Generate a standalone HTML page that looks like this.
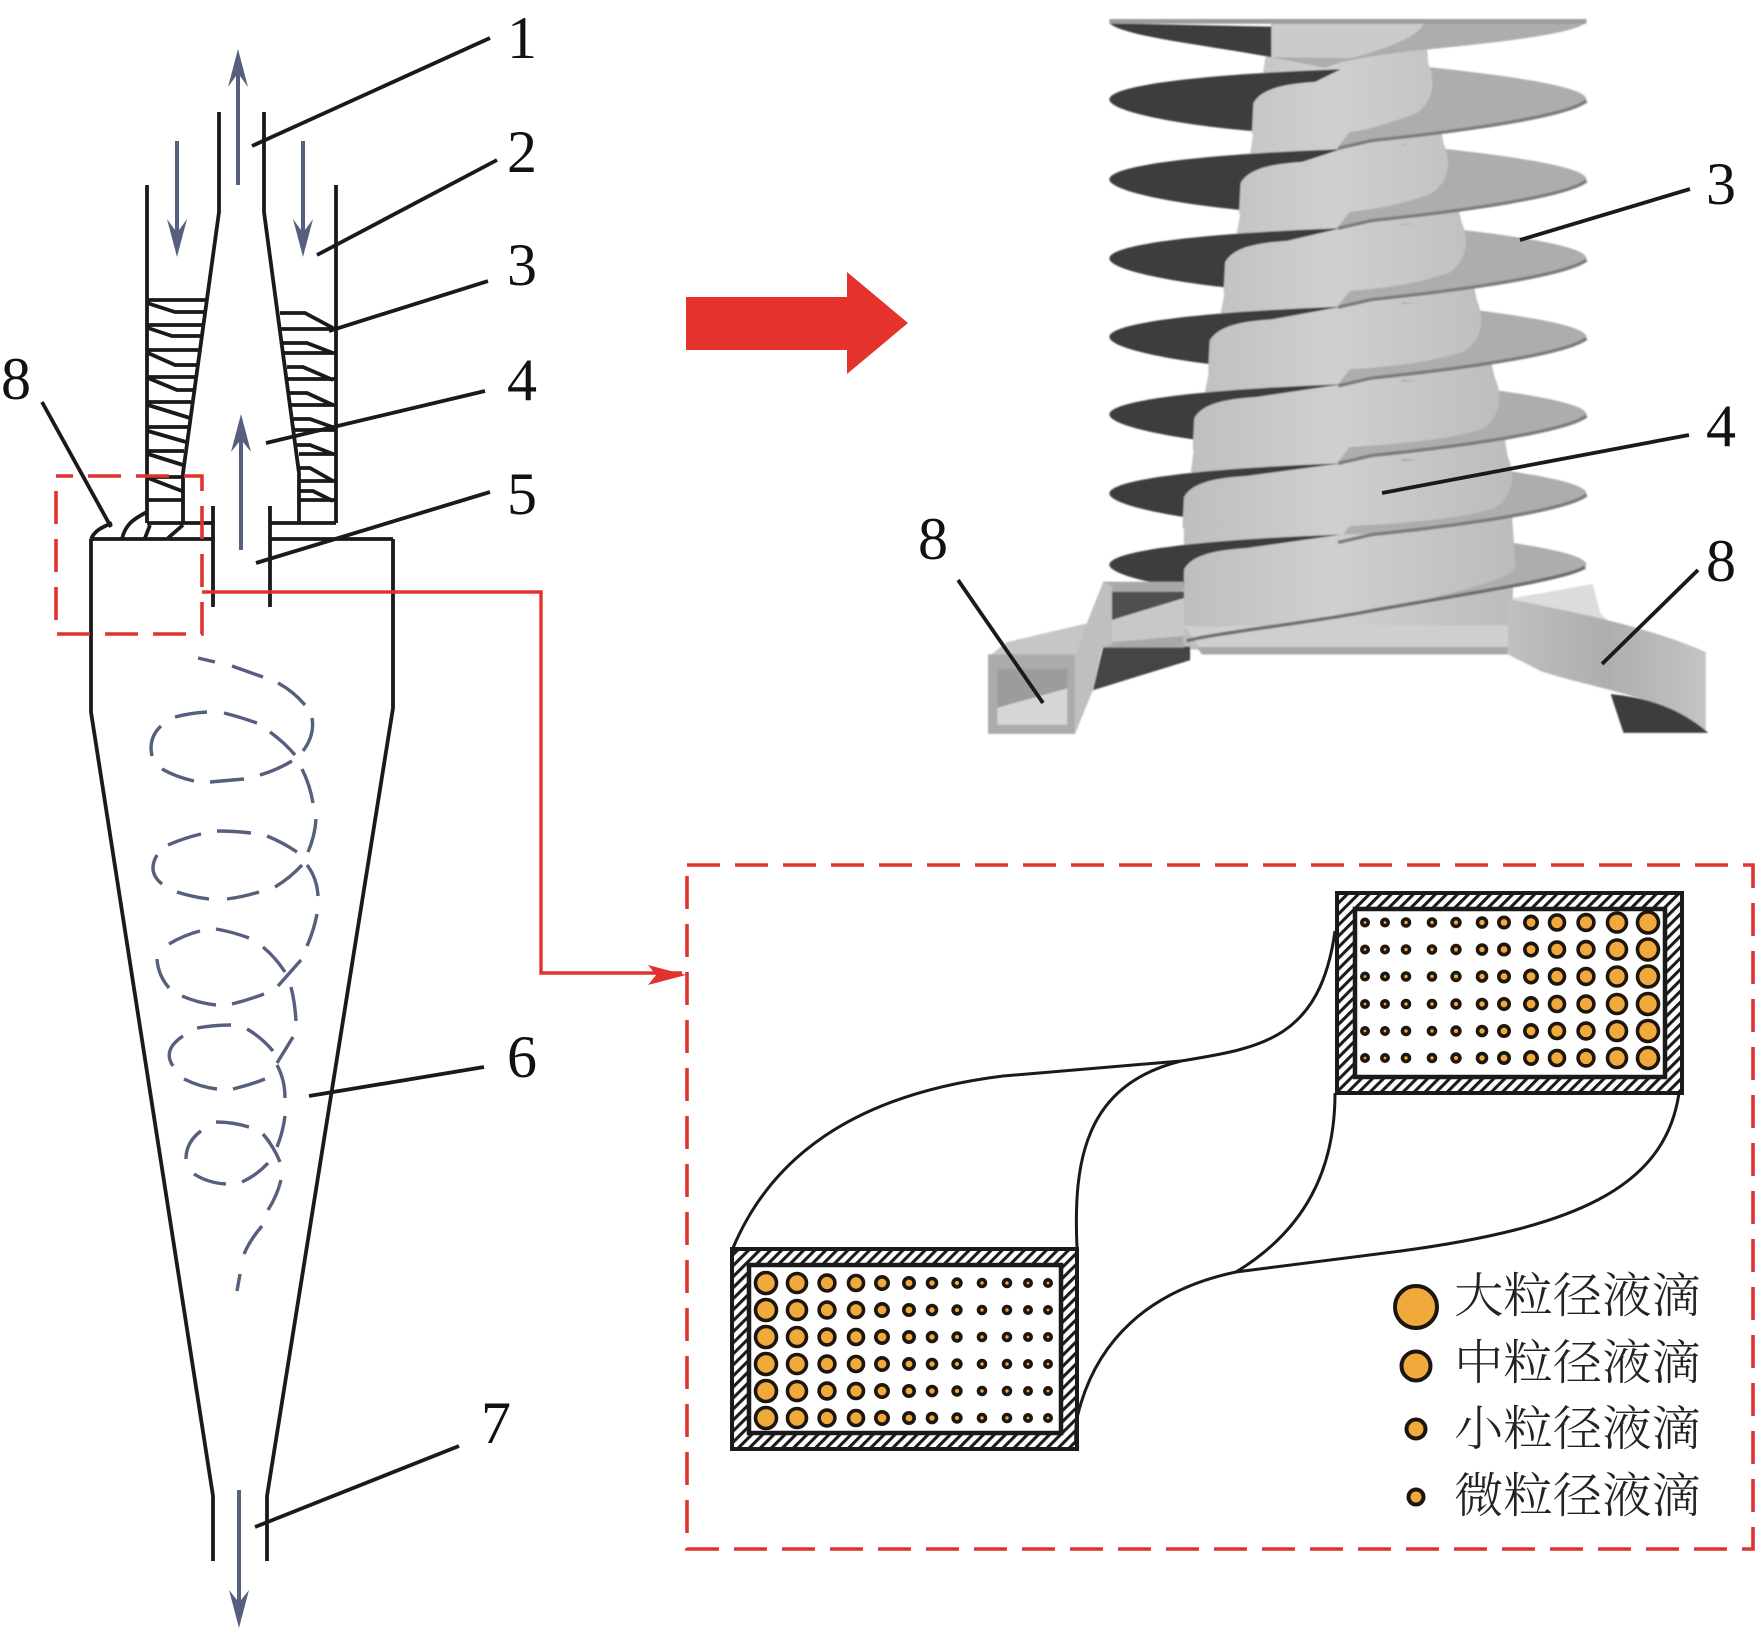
<!DOCTYPE html>
<html><head><meta charset="utf-8"><style>
html,body{margin:0;padding:0;background:#fff;width:1756px;height:1629px;overflow:hidden}
svg{display:block}
.d{font-family:"Liberation Serif",serif;font-size:60px;fill:#111;text-anchor:middle}
.c{font-family:"Liberation Serif","Noto Serif CJK SC",serif;font-size:48px;fill:#222;font-weight:300}
</style></head><body>
<svg width="1756" height="1629" viewBox="0 0 1756 1629" xmlns="http://www.w3.org/2000/svg">
<defs>
<pattern id="h" patternUnits="userSpaceOnUse" width="7.8" height="7.8" patternTransform="rotate(45)"><rect width="7.8" height="7.8" fill="#fff"/><rect width="3.1" height="7.8" fill="#1a1a1a"/></pattern>
<linearGradient id="bd" gradientUnits="userSpaceOnUse" x1="450" x2="1100" y1="0" y2="0"><stop offset="0" stop-color="#bebebe"/><stop offset=".45" stop-color="#d0d0d0"/><stop offset="1" stop-color="#bcbcbc"/></linearGradient>
<linearGradient id="rb" x1="0" x2="1" y1="0" y2="0"><stop offset="0" stop-color="#c0c0c0"/><stop offset=".5" stop-color="#aeaeae"/><stop offset="1" stop-color="#c4c4c4"/></linearGradient>
<filter id="soft" x="-2%" y="-2%" width="104%" height="104%"><feGaussianBlur stdDeviation="1.5"/></filter>
<g id="lens">
<path d="M310,0C310,-25 450,-50 760,-62L750,-30L620,68C450,55 310,25 310,0Z" fill="#3e3e3e"/>
<path d="M880,-72C1040,-55 1238,-30 1238,0C1238,30 1000,60 820,85L755,98L790,50Z" fill="#adadad"/>
</g>
<path id="strip" d="M1238,3C1200,35 1000,65 820,85L755,101" fill="none" stroke="#7d7d7d" stroke-width="7"/>
<g id="rl" fill="#f0a93b" stroke="#1d1510" stroke-width="3.600">
<circle cx="766" cy="0" r="10.500"/><circle cx="797" cy="0" r="9.500"/><circle cx="827" cy="0" r="7.900"/><circle cx="856" cy="0" r="7.500"/><circle cx="882" cy="0" r="6.200"/><circle cx="909" cy="0" r="5.200"/><circle cx="932" cy="0" r="4.500"/><circle cx="957" cy="0" r="3.900"/><circle cx="982" cy="0" r="3.500"/><circle cx="1007" cy="0" r="3.500"/><circle cx="1028" cy="0" r="3.200"/><circle cx="1048" cy="0" r="3.200"/>
</g>
<g id="rr" fill="#f0a93b" stroke="#1d1510" stroke-width="3.600">
<circle cx="1648" cy="0" r="10.500"/><circle cx="1617" cy="0" r="9.500"/><circle cx="1586" cy="0" r="7.900"/><circle cx="1557" cy="0" r="7.500"/><circle cx="1531" cy="0" r="6.200"/><circle cx="1504" cy="0" r="5.200"/><circle cx="1482" cy="0" r="4.500"/><circle cx="1456" cy="0" r="3.900"/><circle cx="1432" cy="0" r="3.500"/><circle cx="1406" cy="0" r="3.500"/><circle cx="1385" cy="0" r="3.200"/><circle cx="1365" cy="0" r="3.200"/>
</g>
</defs>

<!-- 3D swirl -->
<g transform="translate(950,0) scale(.5141,.4847)" filter="url(#soft)">
<path d="M625,42L925,42L930,130L960,295L995,458L1025,620L1060,780L1085,943L1095,1090L1095,1340L455,1340L455,1085L475,920L505,760L535,600L565,440L590,275Z" fill="url(#bd)"/>
<path d="M455,1290L1095,1290L1085,1345L490,1345Z" fill="#cfcfcf"/>
<path d="M480,1335H1085V1350H490Z" fill="#a8a8a8"/>
<!-- top fin -->
<path d="M920,42L1238,42C1238,65 1100,85 900,105C820,115 760,125 730,140L625,118L625,42Z" fill="#adadad"/>
<path d="M310,48L625,55L625,118C480,90 340,75 310,48Z" fill="#3e3e3e"/>
<path d="M625,42L925,42C915,70 880,90 780,120L625,118Z" fill="#cbcbcb"/>
<path d="M310,44H1238" stroke="#9c9c9c" stroke-width="10"/>
<!-- fins -->
<use href="#lens" transform="translate(0,205)"/>
<path d="M590,213C605,183 650,173 710,169L760,143L930,130C945,165 942,210 905,235C800,273 790,280 587,277Z" fill="url(#bd)"/>
<use href="#lens" transform="translate(0,370)"/>
<path d="M565,378C580,348 625,338 685,334L760,308L960,295C975,330 972,375 935,400C830,438 765,445 562,442Z" fill="url(#bd)"/>
<use href="#lens" transform="translate(0,533)"/>
<path d="M535,541C550,511 595,501 655,497L760,471L995,458C1010,493 1007,538 970,563C865,601 735,608 532,605Z" fill="url(#bd)"/>
<use href="#lens" transform="translate(0,695)"/>
<path d="M505,703C520,673 565,663 625,659L760,633L1025,620C1040,655 1037,700 1000,725C895,763 705,770 502,767Z" fill="url(#bd)"/>
<use href="#lens" transform="translate(0,855)"/>
<path d="M475,863C490,833 535,823 595,819L760,793L1060,780C1075,815 1072,860 1035,885C930,923 675,930 472,927Z" fill="url(#bd)"/>
<use href="#lens" transform="translate(0,1018)"/>
<path d="M455,1026C470,996 515,986 575,982L760,956L1085,943C1100,978 1097,1023 1060,1048C955,1086 655,1093 452,1090Z" fill="url(#bd)"/>
<use href="#lens" transform="translate(0,1165)"/>
<path d="M455,1175C470,1145 515,1135 575,1131L760,1103L1095,1090L1100,1170C1090,1195 1000,1220 820,1260C700,1285 500,1300 455,1290Z" fill="url(#bd)"/>
<use href="#strip" transform="translate(0,205)"/>
<use href="#strip" transform="translate(0,370)"/>
<use href="#strip" transform="translate(0,533)"/>
<use href="#strip" transform="translate(0,695)"/>
<use href="#strip" transform="translate(0,855)"/>
<use href="#strip" transform="translate(0,1018)"/>
<path d="M1235,1170C1200,1195 1000,1225 820,1260C700,1285 520,1305 460,1322" fill="none" stroke="#6e6e6e" stroke-width="7"/>
<!-- left inlet -->
<path d="M298,1334L467,1334L467,1362L278,1424Z" fill="#444"/>
<path d="M298,1200H455V1336H298Z" fill="#a8a8a8"/>
<path d="M315,1221H455V1234L315,1279Z" fill="#505050"/>
<path d="M315,1279L455,1234V1312L315,1325Z" fill="#c8c8c8"/>
<path d="M75,1355L110,1325L266,1286L243,1350Z" fill="#c6c6c6"/>
<path d="M298,1200L266,1286L243,1350V1514L278,1424L296,1336L315,1330V1210Z" fill="#bfbfbf"/>
<rect x="74" y="1350" width="169" height="164" fill="#ababab"/>
<rect x="92" y="1380" width="136" height="115" fill="#9c9c9c"/>
<path d="M92,1460L228,1420V1495H92Z" fill="#d6d6d6"/>
<!-- right inlet -->
<path d="M1090,1235L1250,1205L1265,1265L1290,1290L1200,1270Z" fill="#dcdcdc"/>
<path d="M1085,1235C1200,1260 1350,1290 1470,1345L1470,1510C1400,1440 1250,1420 1150,1385L1085,1350Z" fill="url(#rb)"/>
<path d="M1285,1432C1370,1440 1430,1470 1475,1512L1310,1512Z" fill="#3e3e3e"/>
</g>

<!-- red arrow -->
<path d="M686,297H847V272L908,323L847,374V350H686Z" fill="#e5322c"/>

<!-- cyclone -->
<g fill="none" stroke="#1a1a1a" stroke-width="3.800">
<path d="M219,112V212L183,473V523"/>
<path d="M264,112V212L299,473V523"/>
<path d="M147,185V523M336,185V523"/>
<path d="M147,523H213M299,523H336H270"/>
<path d="M91,539H213M270,539H393"/>
<path d="M213,506V607M270,506V607"/>
<path d="M91,539V712L213,1496V1561"/>
<path d="M393,539V708L267,1496V1561"/>
<!-- fins left -->
<path d="M147,300H207M147,303L175,312H205M147,325H203M148,328L172,336H201M147,350H199M148,353L175,365H198M147,377H196M148,378L177,390H195M147,402H191M148,405L190,418M147,427H188M148,431L186,442M147,451H184M148,454L183,465M147,477H183M148,478L182,491M147,500H183"/>
<!-- fins right -->
<path d="M280,313H305L333,328M280,329H336M283,343H307L333,353M283,353H336M287,367H303L333,380M288,379H336M289,393H307L333,405M291,405H336M293,419H310L335,428M293,430H336M297,445H310L333,454M299,454H336M300,468H310L333,481M300,481H336M300,491H313L333,501M300,500H336"/>
<!-- junction -->
<path d="M91,539C95,530 103,527 112,523"/>
<path d="M122,539C125,525 133,519 147,512M145,538L150,525M168,538L183,525"/>
<!-- leaders -->
<path d="M490,38L252,146M497,160L317,255M488,281L329,331M485,391L266,443M490,492L256,563M42,402L111,527M484,1067L309,1096M459,1446L255,1527"/>
</g>

<!-- red dashed box and connector -->
<rect x="56" y="476" width="146" height="158" fill="none" stroke="#e0332f" stroke-width="3.600" stroke-dasharray="33 15" stroke-dashoffset="16"/>
<path d="M202,592H541V973H682" fill="none" stroke="#e0332f" stroke-width="3.400"/>
<path d="M686,975L648,965L656,975L648,985Z" fill="#e0332f"/>

<!-- blue arrows -->
<g fill="#565f7d" stroke="none">
<path d="M236,185V76L228,87L238,49L248,87L240,76V185Z"/>
<path d="M175,141V230L167,219L177,257L187,219L179,230V141Z"/>
<path d="M301,141V230L293,219L303,257L313,219L305,230V141Z"/>
<path d="M239,550V442L231,452L241,414L251,452L243,442V550Z"/>
<path d="M237,1490V1600L229,1590L239,1628L249,1590L241,1600V1490Z"/>
</g>

<!-- spiral dashes -->
<path fill="none" stroke="#565f7d" stroke-width="3.400" d="M198,658L215,662M232,666L263,677M278,683Q293,691 305,705M312,718Q315,735 303,751M295,755Q285,743 270,732M257,723Q240,717 224,713M207,712Q190,713 175,717M161,726Q148,738 152,756M162,769Q176,777 194,781M210,782L244,779M260,775Q277,770 292,761M302,769Q310,785 313,803M316,819Q315,836 308,852M297,852Q282,842 267,836M251,833Q234,831 217,831M201,834Q184,838 168,845M157,855Q147,872 162,884M177,892Q192,897 209,899M227,899Q243,897 259,892M275,887Q290,878 302,865M307,865Q317,878 318,896M317,914Q314,930 307,946M301,960L278,986M264,994Q248,1000 232,1004M216,1005Q198,1003 182,996M169,988Q158,975 157,959M169,944Q184,935 200,931M216,929Q233,932 249,938M263,947Q276,958 285,972M291,987Q295,1003 296,1021M293,1037L277,1063M265,1079Q250,1085 233,1089M217,1089Q200,1087 184,1079M173,1066Q162,1050 183,1036M197,1028Q214,1025 231,1025M247,1029Q261,1037 273,1051M277,1065Q285,1080 285,1098M285,1116Q283,1132 277,1147M263,1134Q274,1147 280,1162M249,1127Q233,1122 216,1122M201,1131Q186,1142 186,1159M194,1174Q208,1183 226,1184M242,1182Q257,1175 268,1163M281,1180Q277,1196 268,1210M262,1226Q250,1240 244,1254M240,1274L237,1291"/>

<!-- digits -->
<text class="d" x="522" y="58">1</text>
<text class="d" x="522" y="172">2</text>
<text class="d" x="522" y="285">3</text>
<text class="d" x="522" y="400">4</text>
<text class="d" x="522" y="514">5</text>
<text class="d" x="16" y="399">8</text>
<text class="d" x="522" y="1077">6</text>
<text class="d" x="496" y="1443">7</text>
<text class="d" x="1721" y="204">3</text>
<text class="d" x="1721" y="446">4</text>
<text class="d" x="1721" y="581">8</text>
<text class="d" x="933" y="559">8</text>
<!-- leaders right -->
<g fill="none" stroke="#1a1a1a" stroke-width="3.800"><path d="M1690,189L1520,240M1689,435L1382,493M1698,570L1602,664M958,580L1043,703"/></g>

<!-- detail dashed box -->
<rect x="687" y="865" width="1066" height="684" fill="none" stroke="#e0332f" stroke-width="3.600" stroke-dasharray="33 15"/>

<!-- channel -->
<g fill="none" stroke="#1a1a1a" stroke-width="3">
<path d="M733,1248C770,1160 850,1095 1003,1076L1181,1061C1260,1048 1320,1040 1335,931"/>
<path d="M1077,1248C1073,1160 1085,1085 1181,1061"/>
<path d="M1335,1093C1335,1170 1305,1230 1236,1272"/>
<path d="M1679,1093C1665,1190 1570,1228 1401,1251L1236,1272C1150,1290 1095,1340 1077,1418"/>
</g>
<path d="M1337,893H1682V1093H1337ZM1355,909V1077H1665V909Z" fill="url(#h)" fill-rule="evenodd"/>
<rect x="1337" y="893" width="345" height="200" fill="none" stroke="#1a1a1a" stroke-width="4"/>
<rect x="1355" y="909" width="310" height="168" fill="#fff" stroke="#1a1a1a" stroke-width="4.500"/>
<path d="M732,1249H1077V1449H732ZM749,1265V1433H1061V1265Z" fill="url(#h)" fill-rule="evenodd"/>
<rect x="732" y="1249" width="345" height="200" fill="none" stroke="#1a1a1a" stroke-width="4"/>
<rect x="749" y="1265" width="312" height="168" fill="#fff" stroke="#1a1a1a" stroke-width="4.500"/>
<path d="M1077,1418Q1075,1432 1076,1445" fill="none" stroke="#1a1a1a" stroke-width="3"/>

<use href="#rl" y="1283"/><use href="#rl" y="1310"/><use href="#rl" y="1337"/><use href="#rl" y="1364"/><use href="#rl" y="1391"/><use href="#rl" y="1418"/>
<use href="#rr" y="922.500"/><use href="#rr" y="949.500"/><use href="#rr" y="976.500"/><use href="#rr" y="1004"/><use href="#rr" y="1031"/><use href="#rr" y="1058"/>

<!-- legend -->
<g fill="#f0a93b" stroke="#1d1510" stroke-width="4">
<circle cx="1416" cy="1307" r="21"/><circle cx="1416" cy="1366" r="14.500"/><circle cx="1416" cy="1429" r="9.500"/><circle cx="1416" cy="1497" r="7.500"/>
</g>
<text class="c" x="1454" y="1312" textLength="247" lengthAdjust="spacingAndGlyphs">大粒径液滴</text>
<text class="c" x="1454" y="1379" textLength="247" lengthAdjust="spacingAndGlyphs">中粒径液滴</text>
<text class="c" x="1454" y="1445" textLength="247" lengthAdjust="spacingAndGlyphs">小粒径液滴</text>
<text class="c" x="1454" y="1512" textLength="247" lengthAdjust="spacingAndGlyphs">微粒径液滴</text>
</svg>
</body></html>
